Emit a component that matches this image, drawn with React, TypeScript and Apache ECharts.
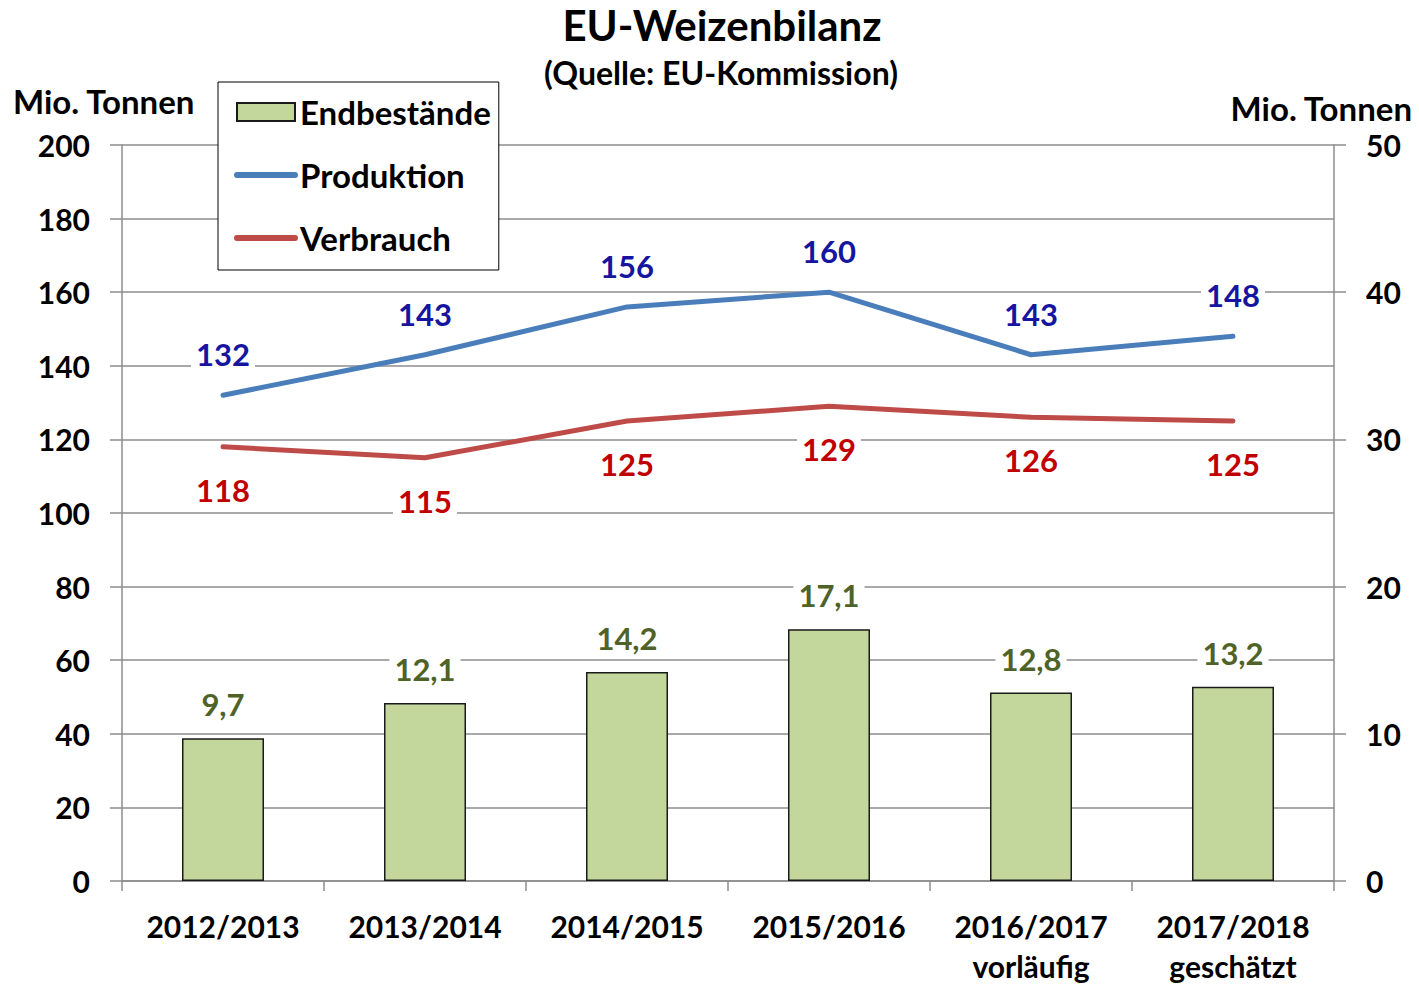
import React, { useEffect, useRef } from "react";
import * as echarts from "echarts";

const categories = ["2012/2013", "2013/2014", "2014/2015", "2015/2016", "2016/2017\nvorläufig", "2017/2018\ngeschätzt"];
const endbestaende = [9.7, 12.1, 14.2, 17.1, 12.8, 13.2];
const produktion = [132, 143, 156, 160, 143, 148];
const verbrauch = [118, 115, 125, 129, 126, 125];
const FONT = "Lato";

const fmtComma = (v: number) => v.toFixed(1).replace(".", ",");

export default function App() {
  const ref = useRef<HTMLDivElement>(null);
  useEffect(() => {
    if (!ref.current) return;
    const chart = echarts.init(ref.current, null, { renderer: "svg" });
    const gray = "#8c8c8c";
    const labelBase = {
      show: true,
      fontFamily: FONT,
      fontSize: 31,
      fontWeight: "bold",
      backgroundColor: "#ffffff",
      padding: [2, 5],
      lineHeight: 32,
    };
    chart.setOption({
      animation: false,
      backgroundColor: "#ffffff",
      textStyle: { fontFamily: FONT },
      title: [
        {
          text: "EU-Weizenbilanz",
          left: 722,
          top: 2,
          padding: 0,
          textAlign: "center",
          textStyle: { fontFamily: FONT, fontSize: 42, fontWeight: "bold", color: "#000", lineHeight: 46 },
        },
        {
          text: "(Quelle: EU-Kommission)",
          left: 721,
          top: 53,
          padding: 0,
          textAlign: "center",
          textStyle: { fontFamily: FONT, fontSize: 32, fontWeight: "bold", color: "#000", lineHeight: 38 },
        },
      ],
      graphic: [
        { type: "text", left: 13, top: 84, style: { text: "Mio. Tonnen", font: `bold 33px ${FONT}`, fill: "#000" } },
        { type: "text", right: 6, top: 91, style: { text: "Mio. Tonnen", font: `bold 33px ${FONT}`, fill: "#000" } },
      ],
      legend: {
        orient: "vertical",
        left: 218,
        top: 82,
        padding: [12, 8, 14, 16],
        itemGap: 27,
        itemWidth: 58,
        itemHeight: 18,
        backgroundColor: "#ffffff",
        borderColor: "#000",
        borderWidth: 1,
        textStyle: { fontFamily: FONT, fontSize: 33, fontWeight: "bold", color: "#000", lineHeight: 36 },
        data: [
          { name: "Endbestände", icon: "rect" },
          { name: "Produktion", itemStyle: { opacity: 0 }, lineStyle: { width: 6, cap: "round" } },
          { name: "Verbrauch", itemStyle: { opacity: 0 }, lineStyle: { width: 6, cap: "round" } },
        ],
      },
      grid: { left: 122, right: 85, top: 145, bottom: 103 },
      xAxis: {
        type: "category",
        data: categories,
        boundaryGap: true,
        axisLine: { lineStyle: { color: gray, width: 1.5 } },
        axisTick: { show: true, length: 10, lineStyle: { color: gray, width: 1.5 } },
        axisLabel: {
          margin: 25,
          fontFamily: FONT,
          fontSize: 30,
          fontWeight: "bold",
          color: "#000",
          lineHeight: 40,
          interval: 0,
        },
      },
      yAxis: [
        {
          type: "value",
          min: 0,
          max: 200,
          interval: 20,
          position: "left",
          axisLine: { show: true, lineStyle: { color: gray, width: 1.5 } },
          axisTick: { show: true, length: 12, lineStyle: { color: gray, width: 1.5 } },
          splitLine: { show: true, lineStyle: { color: gray, width: 1.5 } },
          axisLabel: { margin: 32, fontFamily: FONT, fontSize: 30, fontWeight: "bold", color: "#000" },
        },
        {
          type: "value",
          min: 0,
          max: 50,
          interval: 10,
          position: "right",
          axisLine: { show: true, lineStyle: { color: gray, width: 1.5 } },
          axisTick: { show: true, length: 12, lineStyle: { color: gray, width: 1.5 } },
          splitLine: { show: false },
          axisLabel: { margin: 32, fontFamily: FONT, fontSize: 30, fontWeight: "bold", color: "#000" },
        },
      ],
      series: [
        {
          name: "Endbestände",
          type: "bar",
          yAxisIndex: 1,
          data: endbestaende,
          barWidth: 82,
          itemStyle: { color: "#c3d69b", borderColor: "#1a1a1a", borderWidth: 1.5 },
          label: {
            ...labelBase,
            position: "top",
            distance: 16,
            formatter: (p: any) => fmtComma(p.value),
            color: "#4f6228",
          },
          z: 2,
        },
        {
          name: "Produktion",
          type: "line",
          yAxisIndex: 0,
          data: produktion,
          symbol: "circle",
          symbolSize: 2,
          itemStyle: { color: "#4a7ebb" },
          lineStyle: { color: "#4a7ebb", width: 5, cap: "round" },
          label: { ...labelBase, position: "top", distance: 22, color: "#1515a0" },
          z: 3,
        },
        {
          name: "Verbrauch",
          type: "line",
          yAxisIndex: 0,
          data: verbrauch,
          symbol: "circle",
          symbolSize: 2,
          itemStyle: { color: "#be4b48" },
          lineStyle: { color: "#be4b48", width: 5, cap: "round" },
          label: { ...labelBase, position: "bottom", distance: 24, color: "#c00000" },
          z: 3,
        },
      ],
    });
    return () => chart.dispose();
  }, []);
  return <div ref={ref} style={{ position: "fixed", left: 0, top: 0, width: 1419, height: 986 }} />;
}
